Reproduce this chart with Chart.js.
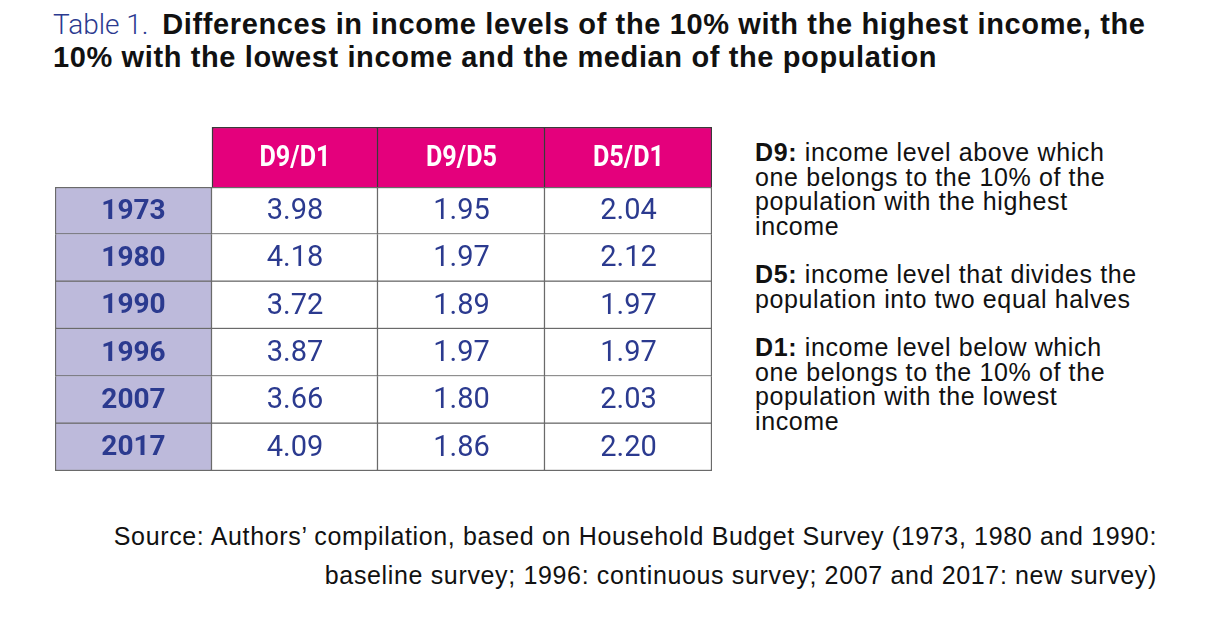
<!DOCTYPE html>
<html>
<head>
<meta charset="utf-8">
<script src="https://cdn.jsdelivr.net/npm/chart.js@4"></script>
<style>
  html, body { margin: 0; padding: 0; background: #fff; }
  #page { position: relative; width: 1220px; height: 619px; overflow: hidden; font-family: "Liberation Sans", Arial, sans-serif; }
  #title { position: absolute; left: 53px; top: 8px; font-size: 29px; line-height: 33px; font-weight: 700; color: #111; white-space: nowrap; letter-spacing: 0.62px; }
  #title .lead { font-family: Roboto, sans-serif; font-size: 28px; color: #2b3a8f; font-weight: 300; letter-spacing: 0; margin-right: 5px; }
  #notes { position: absolute; left: 755px; top: 140px; font-size: 25px; line-height: 24.5px; color: #111; white-space: nowrap; letter-spacing: 0.62px; }
  #notes p { margin: 0 0 24px 0; }
  #notes b { font-weight: 700; }
  #source { position: absolute; right: 63px; top: 517px; font-size: 25px; line-height: 39px; color: #111; text-align: right; white-space: nowrap; letter-spacing: 0.65px; }
  #head { position: absolute; left: 55px; top: 127px; width: 657px; height: 60px; }
  #body { position: absolute; left: 55px; top: 187px; width: 657px; height: 284px; }
</style>
</head>
<body>
<div id="page">
  <div id="title"><span class="lead">Table 1.</span> Differences in income levels of the 10% with the highest income, the<br>10% with the lowest income and the median of the population</div>
  <div id="head"><canvas id="headChart"></canvas></div>
  <div id="body"><canvas id="bodyChart"></canvas></div>
  <div id="notes">
    <p><b>D9:</b> income level above which<br>one belongs to the 10% of the<br>population with the highest<br>income</p>
    <p><b>D5:</b> income level that divides the<br>population into two equal halves</p>
    <p><b>D1:</b> income level below which<br>one belongs to the 10% of the<br>population with the lowest<br>income</p>
  </div>
  <div id="source">Source: Authors’ compilation, based on Household Budget Survey (1973, 1980 and 1990:<br>baseline survey; 1996: continuous survey; 2007 and 2017: new survey)</div>
</div>
<script>
// table data
const years = ['1973', '1980', '1990', '1996', '2007', '2017'];
const columns = ['D9/D1', 'D9/D5', 'D5/D1'];
const d9d1 = [3.98, 4.18, 3.72, 3.87, 3.66, 4.09];
const d9d5 = [1.95, 1.97, 1.89, 1.97, 1.80, 1.86];
const d5d1 = [2.04, 2.12, 1.97, 1.97, 2.03, 2.20];

// layout: column widths in table units (px)
const colWidths = [157, 166, 167, 167];
const colEdges = colWidths.reduce((a, w) => { a.push(a[a.length - 1] + w); return a; }, [0]);
const tableWidth = colEdges[colEdges.length - 1];

const blue = '#2b3a8f';
const magenta = '#e4007c';
const lavender = '#bdbadb';
const bw = 1.5;

// draws the text of each cell at the centre of its bar
const cellText = {
  id: 'cellText',
  afterDatasetsDraw(chart, args, opts) {
    const ctx = chart.ctx;
    const sx = opts.scaleX || 1;
    chart.data.datasets.forEach((ds, d) => {
      chart.getDatasetMeta(d).data.forEach((bar, i) => {
        const t = opts.text(d, i);
        if (!t) return;
        const p = bar.getCenterPoint();
        ctx.save();
        ctx.textAlign = 'center';
        ctx.textBaseline = 'middle';
        ctx.font = opts.font(d);
        ctx.fillStyle = opts.color(d);
        ctx.translate(p.x, p.y + 1);
        ctx.scale(sx, 1);
        ctx.fillText(t, 0, 0);
        ctx.restore();
      });
    });
  }
};

function cellRanges(nRows, c) {
  return new Array(nRows).fill(0).map(() => [colEdges[c], colEdges[c + 1]]);
}

function baseOptions(labels) {
  return {
    indexAxis: 'y',
    responsive: true,
    maintainAspectRatio: false,
    animation: false,
    events: [],
    layout: { padding: 0 },
    scales: {
      x: { type: 'linear', min: 0, max: tableWidth, display: false },
      y: { type: 'category', labels: labels, display: false, offset: true }
    },
    plugins: { legend: { display: false }, tooltip: { enabled: false } }
  };
}

// header row
const headOpts = baseOptions(['']);
headOpts.plugins.cellText = {
  text: (d, i) => d === 0 ? '' : columns[d - 1],
  font: () => 'bold 30px Roboto, "Liberation Sans", sans-serif',
  color: () => '#ffffff',
  scaleX: 0.84
};
new Chart(document.getElementById('headChart'), {
  type: 'bar',
  data: {
    datasets: [0, 1, 2, 3].map(c => ({
      data: cellRanges(1, c),
      grouped: false,
      barPercentage: 1,
      categoryPercentage: 1,
      borderSkipped: false,
      backgroundColor: c === 0 ? 'rgba(0,0,0,0)' : magenta,
      borderColor: '#3a3a3a',
      borderWidth: c === 0 ? 0 : { top: bw, right: bw, bottom: 0, left: c === 1 ? bw : 0 }
    }))
  },
  options: headOpts,
  plugins: [cellText]
});

// body rows
const series = [d9d1, d9d5, d5d1];
const bodyOpts = baseOptions(years);
bodyOpts.plugins.cellText = {
  text: (d, i) => d === 0 ? years[i] : series[d - 1][i].toFixed(2),
  font: d => d === 0 ? 'bold 28px Roboto, "Liberation Sans", sans-serif' : '29px Roboto, "Liberation Sans", sans-serif',
  color: () => blue
};
new Chart(document.getElementById('bodyChart'), {
  type: 'bar',
  data: {
    datasets: [0, 1, 2, 3].map(c => ({
      data: cellRanges(years.length, c),
      grouped: false,
      barPercentage: 1,
      categoryPercentage: 1,
      borderSkipped: false,
      backgroundColor: c === 0 ? lavender : '#ffffff',
      borderColor: '#6a6a6a',
      borderWidth: ctx => ({ top: ctx.dataIndex === 0 ? bw : 0, right: bw, bottom: bw, left: c === 0 ? bw : 0 })
    }))
  },
  options: bodyOpts,
  plugins: [cellText]
});
</script>
</body>
</html>
